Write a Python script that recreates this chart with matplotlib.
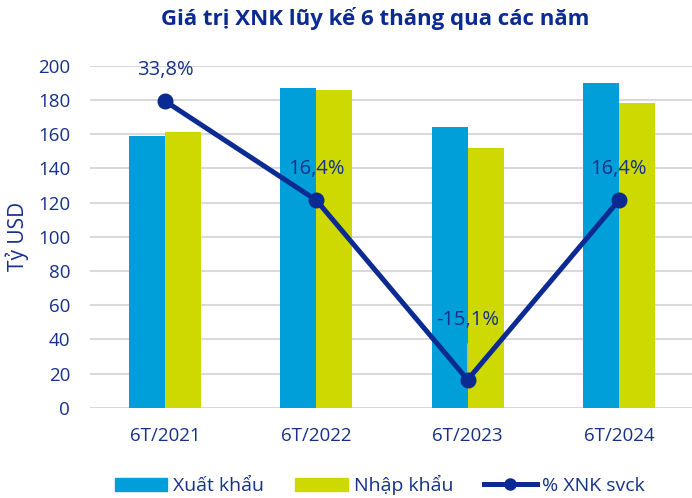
import matplotlib
matplotlib.use("Agg")
import matplotlib.pyplot as plt
import numpy as np
from matplotlib.patches import Patch
from matplotlib.lines import Line2D

categories = ["6T/2021", "6T/2022", "6T/2023", "6T/2024"]
xuat_khau = [159.1, 186.8, 164.2, 189.8]
nhap_khau = [161.1, 185.8, 151.9, 178.1]
pct_svck = [33.8, 16.4, -15.1, 16.4]
pct_labels = ["33,8%", "16,4%", "-15,1%", "16,4%"]
y_ticks = [0, 20, 40, 60, 80, 100, 120, 140, 160, 180, 200]

BLUE = "#009fda"
YELLOW = "#cdd900"
NAVY = "#0b2a92"
TEXT = "#15318a"
GRID = "#d9d9d9"

plt.rcParams["font.family"] = ["Open Sans", "DejaVu Sans"]

fig = plt.figure(figsize=(6.92, 4.98), dpi=100)
ax = fig.add_axes([89.5 / 692, 1 - 407.7 / 498, 605 / 692, 341.9 / 498])

x = np.arange(len(categories))
bw = 0.238
ax.bar(x - bw / 2, xuat_khau, bw, color=BLUE, zorder=2)
ax.bar(x + bw / 2, nhap_khau, bw, color=YELLOW, zorder=2)

ax.set_xlim(-0.5, len(categories) - 0.5)
ax.set_ylim(0, 200)
ax.set_yticks(y_ticks)
ax.grid(axis="y", color=GRID, linewidth=1.5, zorder=0)
ax.set_axisbelow(True)
for s in ax.spines.values():
    s.set_visible(False)
ax.tick_params(axis="both", length=0, labelcolor=TEXT, labelsize=13.5)
ax.tick_params(axis="y", pad=14)
ax.tick_params(axis="x", pad=14)
ax.set_xticks(x)
ax.set_xticklabels(categories)
ax.set_ylabel("Tỷ USD", color=TEXT, fontsize=15, labelpad=6)

ax2 = ax.twinx()
ax2.set_ylim(-20, 40)
ax2.axis("off")
ax2.plot(x, pct_svck, color=NAVY, linewidth=3.6, marker="o", markersize=10.5, zorder=5)
for i, (v, lab) in enumerate(zip(pct_svck, pct_labels)):
    if v < 0:
        ax2.annotate(lab, (x[i], v), xytext=(0, 43), textcoords="offset points",
                     ha="center", va="center", color=TEXT, fontsize=14.5,
                     arrowprops=dict(arrowstyle="-", color="#b0b0b0", lw=1,
                                     shrinkA=8, shrinkB=2))
    else:
        ax2.annotate(lab, (x[i], v), xytext=(0, 22.5), textcoords="offset points",
                     ha="center", va="center", color=TEXT, fontsize=14.5)

fig.text(375 / 692, 1 - 19 / 498, "Giá trị XNK lũy kế 6 tháng qua các năm",
         ha="center", va="center", color=NAVY, fontsize=16, fontweight="bold")

handles = [Patch(color=BLUE, label="Xuất khẩu"),
           Patch(color=YELLOW, label="Nhập khẩu"),
           Line2D([], [], color=NAVY, linewidth=3.6, marker="o", markersize=8,
                  label="% XNK svck")]
leg = fig.legend(handles=handles, loc="center", bbox_to_anchor=(380 / 692, 1 - 485 / 498),
                 ncol=3, frameon=False, fontsize=14, handlelength=2.7,
                 handleheight=0.65, handletextpad=0.3, columnspacing=1.6)
for t in leg.get_texts():
    t.set_color(TEXT)

fig.savefig("out.png", dpi=100)
